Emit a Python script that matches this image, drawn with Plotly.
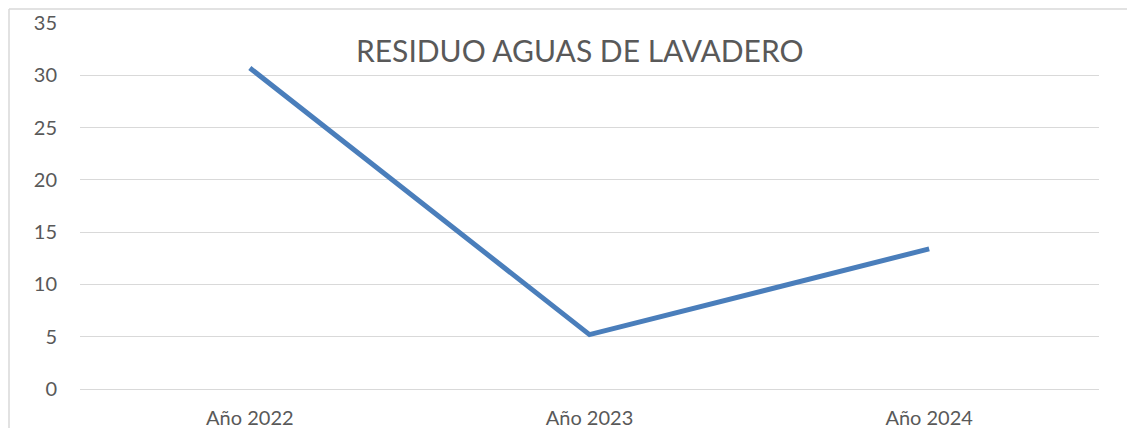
import plotly.graph_objects as go

categories = ["Año 2022", "Año 2023", "Año 2024"]
values = [30.7, 5.2, 13.4]
y_ticks = [0, 5, 10, 15, 20, 25, 30, 35]
title_text = "RESIDUO AGUAS DE LAVADERO"

OFF = 8  # page body margin
W, H = 1135 - 2 * OFF, 436 - 2 * OFF
ml, mt = 80 - OFF, 23 - OFF
mr = W - (1099 - OFF)
mb = H - (389 - OFF)
pw, ph = W - ml - mr, H - mt - mb

fig = go.Figure()
fig.add_trace(go.Scatter(
    x=categories, y=values, mode="lines",
    line=dict(color="#4A7EBB", width=5),
    hoverinfo="skip", showlegend=False,
))

font_family = "Lato, 'Open Sans', sans-serif"
bx = (9 - OFF - ml) / pw
by = (H - mb - (9 - OFF)) / ph
border = dict(color="#D9D9D9", width=1.5)
fig.update_layout(
    width=W, height=H,
    margin=dict(l=ml, r=mr, t=mt, b=mb, autoexpand=False),
    paper_bgcolor="white", plot_bgcolor="white",
    font=dict(family=font_family, color="#595959", size=20),
    xaxis=dict(
        type="category", range=[-0.5, 2.5], showgrid=False, zeroline=False,
        showline=False, ticks="", tickfont=dict(size=20, color="#595959"),
        ticklabelstandoff=15, automargin=False,
    ),
    yaxis=dict(
        range=[0, 35], tickvals=y_ticks, showgrid=True, gridcolor="#D9D9D9",
        gridwidth=1, zeroline=True, zerolinecolor="#D9D9D9", zerolinewidth=1,
        showline=False, ticks="", automargin=False,
        tickfont=dict(size=20, color="#595959"), ticklabelstandoff=22,
    ),
    annotations=[dict(
        text=title_text, xref="paper", yref="paper",
        x=(580 - OFF - ml) / pw, y=(H - mb - (50 - OFF)) / ph,
        xanchor="center", yanchor="middle",
        showarrow=False, font=dict(size=30, color="#595959", family=font_family),
    )],
    shapes=[
        dict(type="line", xref="paper", yref="paper", x0=bx, x1=bx,
             y0=-0.5, y1=by, line=border, layer="below"),
        dict(type="line", xref="paper", yref="paper", x0=bx, x1=1.5,
             y0=by, y1=by, line=border, layer="below"),
    ],
)

fig.write_html("out.html")
